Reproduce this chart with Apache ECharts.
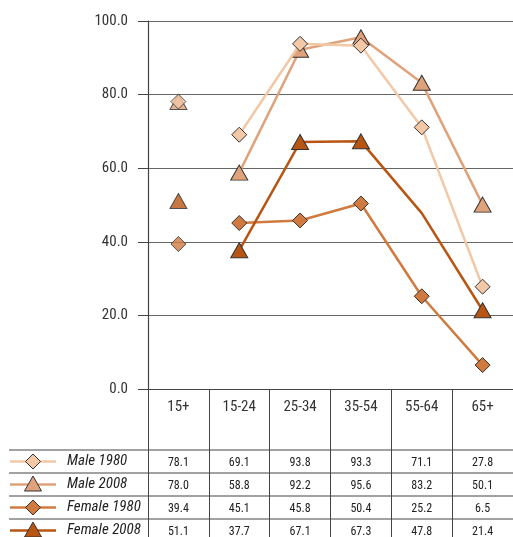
<!DOCTYPE html>
<html><head><meta charset="utf-8">
<script src="https://cdn.jsdelivr.net/npm/echarts@6/dist/echarts.min.js"></script>
<style>html,body{margin:0;padding:0;background:#fff}#c{width:513px;height:537px}</style>
</head><body><div id="c"></div>
<script>
var categories = ['15+', '15-24', '25-34', '35-54', '55-64', '65+'];
var seriesNames = ['Male 1980', 'Male 2008', 'Female 1980', 'Female 2008'];
var male1980 = [78.1, 69.1, 93.8, 93.3, 71.1, 27.8];
var male2008 = [78.0, 58.8, 92.2, 95.6, 83.2, 50.1];
var female1980 = [39.4, 45.1, 45.8, 50.4, 25.2, 6.5];
var female2008 = [51.1, 37.7, 67.1, 67.3, 47.8, 21.4];
var yTicks = [0, 20, 40, 60, 80, 100];

var allData = [male1980, male2008, female1980, female2008];
var colors = ['#f2c8a6', '#dfa27a', '#d17a40', '#b95513'];
var symbols = ['diamond', 'triangle', 'diamond', 'triangle'];
var sizes = [15, [17, 15], 15, [17, 15]];
var hidden = {3: [4]}; // marker not shown in reference
var FONT = '"Roboto Condensed", "Liberation Sans Narrow", sans-serif';

var chart = echarts.init(document.getElementById('c'));
var series = [];
var zs = [4, 3, 5, 6];
allData.forEach(function (arr, s) {
  var lineData = arr.map(function (v, i) {
    if (i === 0) return '-';
    if (hidden[s] && hidden[s].indexOf(i) >= 0) return {value: v, symbol: 'none'};
    return v;
  });
  series.push({
    type: 'line', name: seriesNames[s], data: lineData, z: zs[s],
    symbol: symbols[s], symbolSize: sizes[s], showAllSymbol: true,
    lineStyle: {color: colors[s], width: 2.5},
    itemStyle: {color: colors[s], borderColor: '#333', borderWidth: 1},
    emphasis: {disabled: true}, animation: false
  });
  series.push({
    type: 'scatter', name: seriesNames[s] + ' 15+', z: zs[s],
    data: arr.map(function (v, i) { return i === 0 ? v : '-'; }),
    symbol: symbols[s], symbolSize: sizes[s],
    itemStyle: {color: colors[s], borderColor: '#333', borderWidth: 1},
    emphasis: {disabled: true}, animation: false
  });
});

chart.setOption({
  animation: false,
  grid: {left: 148, right: 0, top: 21, bottom: 148},
  xAxis: {
    type: 'category', data: categories, boundaryGap: true,
    axisLine: {show: true, lineStyle: {color: '#444', width: 1}},
    axisTick: {show: true, length: 148, lineStyle: {color: '#444', width: 1}},
    axisLabel: {color: '#333', fontFamily: FONT, fontSize: 15, margin: 11}
  },
  yAxis: {
    type: 'value', min: yTicks[0], max: yTicks[yTicks.length - 1], interval: 20,
    axisLine: {show: true, lineStyle: {color: '#444', width: 1.2}},
    axisTick: {show: true, length: 10, lineStyle: {color: '#444'}},
    splitLine: {show: true, lineStyle: {color: '#666', width: 1}},
    axisLabel: {color: '#333', fontFamily: FONT, fontSize: 15, margin: 20,
      formatter: function (v) { return v.toFixed(1); }}
  },
  series: series
});

// Data table
var rowTop = 450, rowH = 23;
var g = [];
for (var r = 0; r < 4; r++) {
  var y0 = rowTop + r * rowH;
  g.push({type: 'line', shape: {x1: 9, y1: y0, x2: 513, y2: y0},
    style: {stroke: '#444', lineWidth: 1}});
  var cy = y0 + rowH / 2;
  g.push({type: 'line', z: 10, shape: {x1: 10, y1: cy, x2: 56, y2: cy},
    style: {stroke: colors[r], lineWidth: 2.5}});
  g.push({type: 'text', z: 10, x: 67, y: cy,
    style: {text: seriesNames[r], fill: '#222', font: 'italic 15px ' + FONT, textVerticalAlign: 'middle', textAlign: 'left'}});
  for (var i = 0; i < categories.length; i++) {
    var px = chart.convertToPixel({xAxisIndex: 0}, i);
    g.push({type: 'text', z: 10, x: px, y: cy + 1,
      style: {text: allData[r][i].toFixed(1), fill: '#222', font: '12px ' + FONT, textAlign: 'center', textVerticalAlign: 'middle'}});
  }
}

// legend markers
for (var r2 = 0; r2 < 4; r2++) {
  var cy2 = rowTop + r2 * rowH + rowH / 2;
  var sz = sizes[r2];
  var w = Array.isArray(sz) ? sz[0] : sz, h = Array.isArray(sz) ? sz[1] : sz;
  var pts = symbols[r2] === 'diamond'
    ? [[33, cy2 - h/2], [33 + w/2, cy2], [33, cy2 + h/2], [33 - w/2, cy2]]
    : [[33, cy2 - h/2 - 1], [33 + w/2, cy2 + h/2 - 1], [33 - w/2, cy2 + h/2 - 1]];
  g.push({type: 'polygon', z: 11, shape: {points: pts},
    style: {fill: colors[r2], stroke: '#333', lineWidth: 1}});
}
chart.setOption({graphic: g});
</script></body></html>
